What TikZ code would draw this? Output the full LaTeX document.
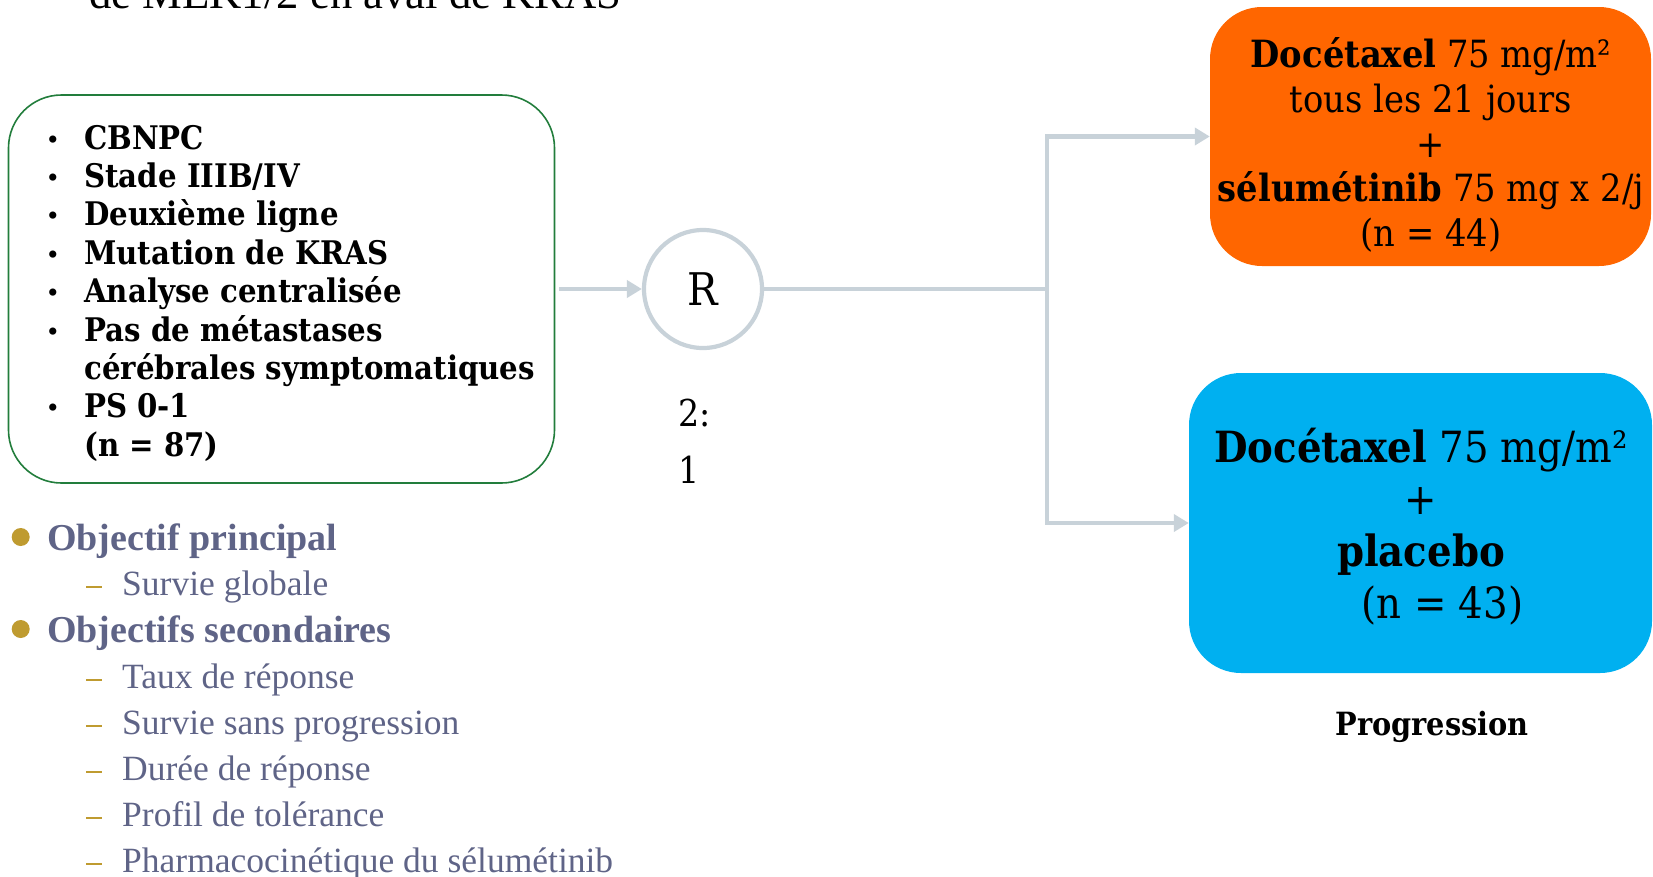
\documentclass[tikz,border=0pt]{standalone}
\usepackage{fontspec}
\usetikzlibrary{arrows.meta}
\newfontfamily\geo{DejaVu Serif}[FakeStretch=0.9]
\newfontfamily\tms{Liberation Serif}
\definecolor{arrowgray}{RGB}{200,210,217}
\definecolor{boxgreen}{RGB}{34,125,60}
\definecolor{armorange}{RGB}{255,102,0}
\definecolor{armblue}{RGB}{0,176,240}
\definecolor{slate}{RGB}{95,100,135}
\definecolor{gold}{RGB}{191,155,48}
\tikzset{
  conn/.style={draw=arrowgray, line width=4.2pt},
  arr/.style={conn, -{Triangle[length=15pt,width=17pt]}},
  elig/.style={anchor=base west, inner sep=0, font=\geo\bfseries\fontsize{32.5}{38}\selectfont},
  eligbul/.style={anchor=base, inner sep=0, font=\tms\fontsize{30}{38}\selectfont},
  objmain/.style={anchor=base west, inner sep=0, text=slate, font=\tms\bfseries\fontsize{38}{44}\selectfont},
  objsub/.style={anchor=base west, inner sep=0, text=slate, font=\tms\fontsize{35.5}{42}\selectfont},
  objdash/.style={draw=gold, line width=2.2pt},
  objbul/.style={circle, fill=gold, inner sep=0, minimum size=18pt},
  armbox/.style={rounded corners=52pt, inner sep=0, align=center},
}
\begin{document}
\begin{tikzpicture}[x=1pt,y=-1pt]
\useasboundingbox (0,0) rectangle (1653,876);
\clip (0,0) rectangle (1653,876);

% cut-off title line
\node[anchor=base west, inner sep=0, font=\tms\fontsize{44.7}{50}\selectfont] (title) at (89,8) {de MEK1/2 en aval de KRAS};

% eligibility box
\node[draw=boxgreen, line width=1.6pt, rounded corners=53pt, minimum width=546pt, minimum height=388pt, inner sep=0] (elig) at (281.5,289) {};
\node[eligbul] (b1) at (53,149) {•};
\node[elig] (e1) at (84,149) {CBNPC};
\node[eligbul] (b2) at (53,187.4) {•};
\node[elig] (e2) at (84,187.4) {Stade IIIB/IV};
\node[eligbul] (b3) at (53,225.8) {•};
\node[elig] (e3) at (84,225.8) {Deuxième ligne};
\node[eligbul] (b4) at (53,264.2) {•};
\node[elig] (e4) at (84,264.2) {Mutation de KRAS};
\node[eligbul] (b5) at (53,302.6) {•};
\node[elig] (e5) at (84,302.6) {Analyse centralisée};
\node[eligbul] (b6) at (53,341) {•};
\node[elig] (e6) at (84,341) {Pas de métastases};
\node[elig] (e7) at (84,379.4) {cérébrales symptomatiques};
\node[eligbul] (b8) at (53,417.8) {•};
\node[elig] (e8) at (84,417.8) {PS 0-1};
\node[elig] (e9) at (84,456.2) {(n = 87)};

% randomisation
\node[circle, draw=arrowgray, line width=4.2pt, minimum size=118pt, inner sep=0, font=\geo\fontsize{45}{50}\selectfont] (R) at (703,289) {R};
\node[anchor=base west, inner sep=0, font=\geo\fontsize{37}{44}\selectfont] (r1) at (678,426) {2:};
\node[anchor=base west, inner sep=0, font=\geo\fontsize{37}{44}\selectfont] (r2) at (678,483) {1};

% arms
\node[armbox, fill=armorange, minimum width=441pt, minimum height=259pt] (armA) at (1430.5,136.5) {};
\node[inner sep=0, align=center, font=\geo\fontsize{37.5}{44.8}\selectfont] (armAtxt) at (1431,145)
  {{\bfseries Docétaxel} 75 mg/m²\\ tous les 21 jours\\ +\\ {\bfseries sélumétinib} 75 mg x 2/j\\ (n = 44)};
\node[armbox, fill=armblue, minimum width=463pt, minimum height=300pt] (armB) at (1420.5,523) {};
\node[inner sep=0, align=center, font=\geo\fontsize{43}{52}\selectfont] (armBtxt) at (1421,527)
  {{\bfseries Docétaxel} 75 mg/m²\\ +\\ {\bfseries placebo}\\ \hspace*{1em}(n = 43)};
\node[anchor=base, inner sep=0, font=\geo\bfseries\fontsize{32}{38}\selectfont] (prog) at (1432,735) {Progression};

% connectors
\coordinate (split) at (1047,289);
\draw[arr, shorten <=4pt] (elig.east) -- (R.west);
\draw[conn] (R.east) -- (split);
\draw[arr] (split) |- (armA.west);
\draw[arr] (split) |- (armB.west);

% objectives
\node[objbul] (o1) at (20.7,537) {};
\node[objmain] (om1) at (47,550) {Objectif principal};
\draw[objdash] (86,587) -- (102,587);
\node[objsub] (os1) at (122,595) {Survie globale};
\node[objbul] (o2) at (20.7,629) {};
\node[objmain] (om2) at (47,642) {Objectifs secondaires};
\draw[objdash] (86,680) -- (102,680);
\node[objsub] (os2) at (122,688) {Taux de réponse};
\draw[objdash] (86,726) -- (102,726);
\node[objsub] (os3) at (122,734) {Survie sans progression};
\draw[objdash] (86,772) -- (102,772);
\node[objsub] (os4) at (122,780) {Durée de réponse};
\draw[objdash] (86,818) -- (102,818);
\node[objsub] (os5) at (122,826) {Profil de tolérance};
\draw[objdash] (86,864) -- (102,864);
\node[objsub] (os6) at (122,872) {Pharmacocinétique du sélumétinib};
\end{tikzpicture}
\end{document}
